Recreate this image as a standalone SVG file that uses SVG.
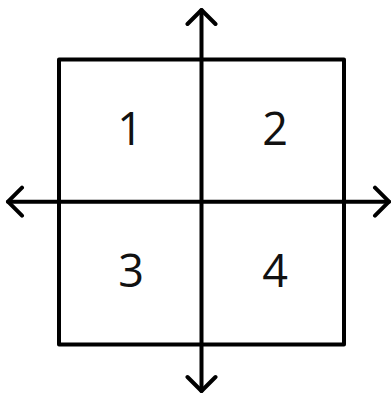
<svg xmlns="http://www.w3.org/2000/svg" width="391" height="393" viewBox="0 0 391 393">
<style>
.ln{stroke:#000;stroke-width:4;fill:none;stroke-linecap:round;stroke-linejoin:round}
.t{font-family:"Open Sans","Liberation Sans",sans-serif;font-size:45px;fill:#111;text-anchor:middle}
</style>
<rect width="391" height="393" fill="#fff"/>
<g id="square"><rect class="ln" x="59" y="59.5" width="285" height="285"/></g>
<g id="connectors">
<path class="ln" d="M201.5 10V391M8 201.7H389"/>
<path class="ln" d="M187.5 24L201.5 10L215.5 24M187.5 377L201.5 391L215.5 377M22 187.7L8 201.7L22 215.7M375 187.7L389 201.7L375 215.7"/>
</g>
<g id="q1"><text class="t" x="130" y="145">1</text></g>
<g id="q2"><text class="t" x="275" y="145">2</text></g>
<g id="q3"><text class="t" x="131" y="287">3</text></g>
<g id="q4"><text class="t" x="275" y="287">4</text></g>
</svg>
